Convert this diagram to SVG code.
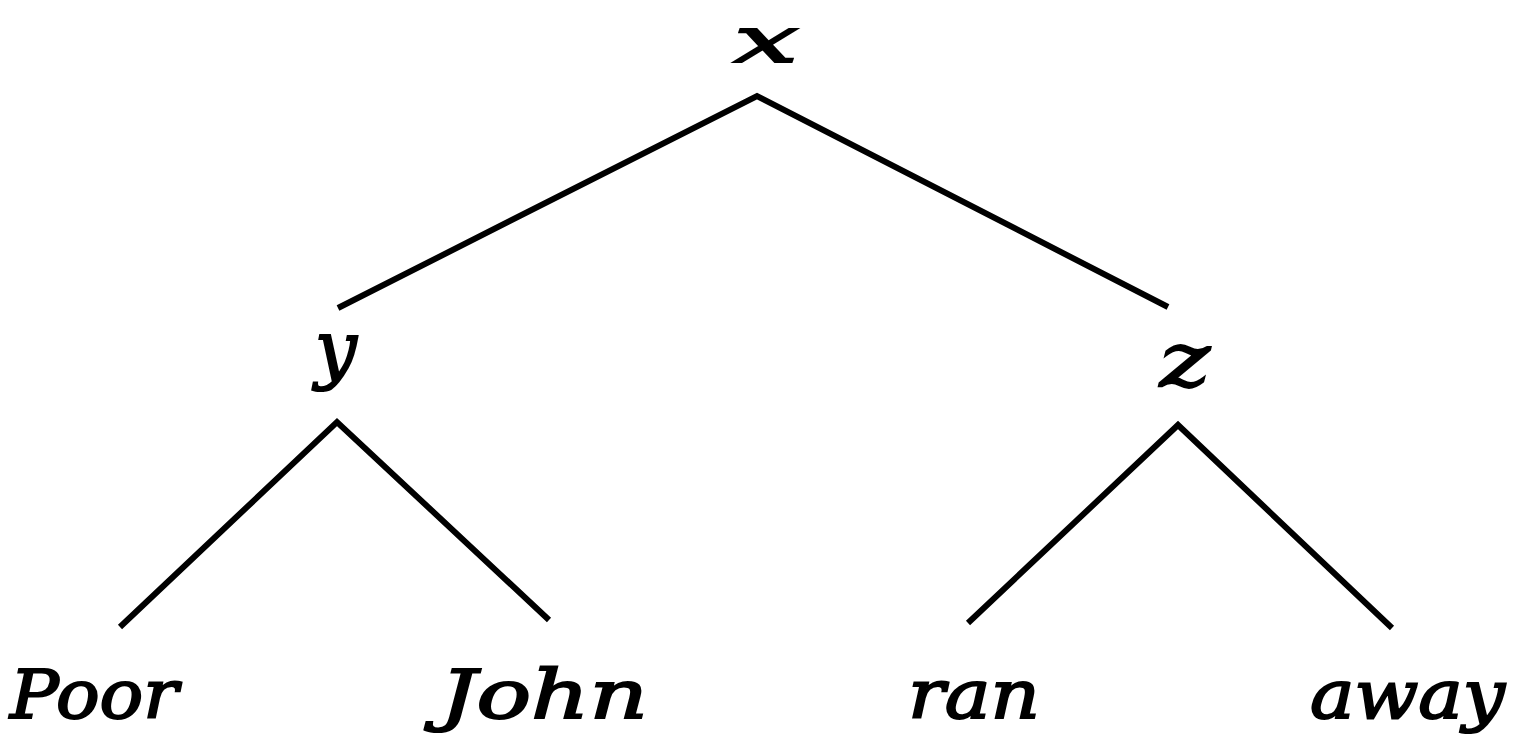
<svg xmlns="http://www.w3.org/2000/svg" width="1524" height="746" viewBox="0 0 1524 746">
<style>
.lbl{font-family:"DejaVu Serif","Liberation Serif",serif;font-style:italic;font-weight:normal;fill:#000;stroke:#000;stroke-width:2;}
.big{font-size:74px;}
.top{font-size:64px;}
.word{font-size:68px;}
.edge{stroke:#000;stroke-width:6;stroke-linecap:butt;fill:none;}
</style>
<rect width="1524" height="746" fill="#fff"/>
<g id="connectors">
<polyline class="edge" points="338,308 757,96 1168,307"/>
<polyline class="edge" points="120,627 337,422 549,620"/>
<polyline class="edge" points="968,623 1178,425 1392,628"/>
</g>
<g id="node-x"><text class="lbl top" x="734" y="62" textLength="64" lengthAdjust="spacingAndGlyphs">x</text></g>
<g id="node-y"><text class="lbl big" x="336" y="374" text-anchor="middle">y</text></g>
<g id="node-z"><text class="lbl big" x="1160" y="386" textLength="50" lengthAdjust="spacingAndGlyphs">z</text></g>
<g id="node-poor"><text class="lbl word" x="10" y="718" textLength="168" lengthAdjust="spacingAndGlyphs">Poor</text></g>
<g id="node-john"><text class="lbl word" x="440" y="718" textLength="208" lengthAdjust="spacingAndGlyphs">John</text></g>
<g id="node-ran"><text class="lbl word" x="908" y="718" textLength="132" lengthAdjust="spacingAndGlyphs">ran</text></g>
<g id="node-away"><text class="lbl word" x="1310" y="718" textLength="195" lengthAdjust="spacingAndGlyphs">away</text></g>
</svg>
